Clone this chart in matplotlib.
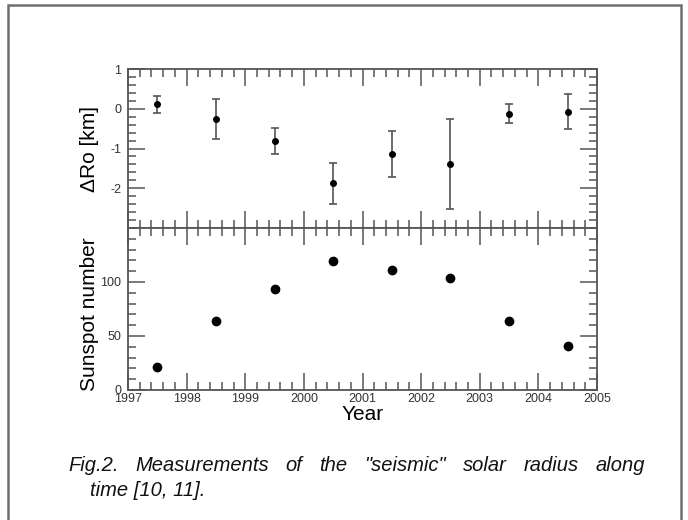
import matplotlib
matplotlib.use("Agg")
import matplotlib.pyplot as plt
from matplotlib.ticker import MultipleLocator
from matplotlib.patches import Rectangle

# yearly values
years = [1997.5, 1998.5, 1999.5, 2000.5, 2001.5, 2002.5, 2003.5, 2004.5]
dRo = [0.11, -0.25, -0.81, -1.88, -1.13, -1.39, -0.13, -0.07]
dRo_err = [0.22, 0.50, 0.33, 0.52, 0.58, 1.13, 0.24, 0.43]
sunspots = [21.5, 64.3, 93.3, 119.6, 111.0, 104.0, 63.7, 40.4]

caption1 = 'Fig.2. Measurements of the "seismic" solar radius along'
caption2 = 'time [10, 11].'

plt.rcParams['font.family'] = ['Liberation Sans', 'DejaVu Sans']

W, H = 688, 520
fig = plt.figure(figsize=(W / 100, H / 100), dpi=100)

ax1 = fig.add_axes([128 / W, 1 - 228 / H, 469 / W, 159 / H])
ax2 = fig.add_axes([128 / W, 1 - 390 / H, 469 / W, 162 / H])

axcol = "#555555"
for ax in (ax1, ax2):
    ax.set_xlim(1997, 2005)
    ax.xaxis.set_major_locator(MultipleLocator(1))
    ax.xaxis.set_minor_locator(MultipleLocator(0.2))
    ax.tick_params(which="both", direction="in", top=True, right=True,
                   color=axcol, width=1.1, labelsize=9, labelcolor="#333333")
    ax.tick_params(which="major", length=12)
    ax.tick_params(which="minor", length=6)
    ax.tick_params(axis="y", pad=5)
    ax.tick_params(axis="x", pad=2)
    for s in ax.spines.values():
        s.set_color(axcol)
        s.set_linewidth(1.3)

# top panel: seismic radius
ax1.errorbar(years, dRo, yerr=dRo_err, fmt="o", color="black", markersize=4,
             ecolor=axcol, elinewidth=1.2, capsize=3, capthick=1.2)
ax1.set_ylim(-3, 1)
ax1.set_yticks([-2, -1, 0, 1])
ax1.set_yticklabels(["-2", "-1", "0", "1"])
ax1.yaxis.set_minor_locator(MultipleLocator(0.2))
ax1.tick_params(axis="x", labelbottom=False)
ax1.set_ylabel("ΔRo [km]", fontsize=15)
ax1.yaxis.set_label_coords(-0.062, 0.5)

# bottom panel: sunspot number
ax2.plot(years, sunspots, "o", color="black", markersize=6)
ax2.set_ylim(0, 150)
ax2.set_yticks([0, 50, 100])
ax2.yaxis.set_minor_locator(MultipleLocator(10))
ax2.set_ylabel("Sunspot number", fontsize=15)
ax2.yaxis.set_label_coords(-0.062, 0.47)
ax2.set_xlabel("Year", fontsize=15)
ax2.xaxis.set_label_coords(0.5, -0.095)

# grey frame round the whole figure
fig.patches.append(Rectangle((8 / W, -0.05), (681 - 8) / W, 1.05 - 5 / H,
                             transform=fig.transFigure, fill=False,
                             edgecolor="#6e6e6e", linewidth=1.8))

# justified caption, first line spread between two edges
renderer = fig.canvas.get_renderer()
words = caption1.split()
texts = [fig.text(0, 1 - 471 / H, w, fontsize=14.5, style="italic",
                  va="baseline", color="#111111") for w in words]
widths = [t.get_window_extent(renderer).width for t in texts]
left, right = 68, 645
gap = (right - left - sum(widths)) / (len(words) - 1)
x = left
for t, w in zip(texts, widths):
    t.set_x(x / W)
    x += w + gap
fig.text(90 / W, 1 - 496 / H, caption2, fontsize=14.5, style="italic",
         va="baseline", color="#111111")

fig.savefig("out.png", dpi=100)
